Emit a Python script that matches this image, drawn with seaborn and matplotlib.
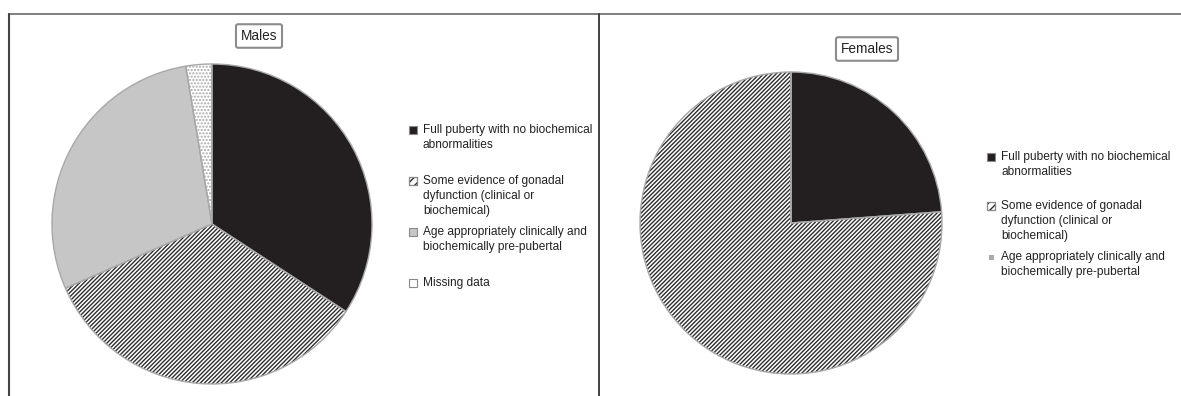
import matplotlib
matplotlib.use("Agg")
import matplotlib.pyplot as plt
from matplotlib.patches import Rectangle
from matplotlib.lines import Line2D
import seaborn as sns

# Pubertal outcome groups
categories = [
    "Full puberty with no biochemical\nabnormalities",
    "Some evidence of gonadal\ndyfunction (clinical or\nbiochemical)",
    "Age appropriately clinically and\nbiochemically pre-pubertal",
    "Missing data",
]
males = [13, 13, 11, 1]
females = [5, 16, 0]
panel_titles = ["Males", "Females"]

sns.set_theme(style="white")
plt.rcParams["font.family"] = ["Liberation Sans", "DejaVu Sans"]
plt.rcParams["hatch.linewidth"] = 1.0

W, H = 1181, 396
fig = plt.figure(figsize=(W / 100, H / 100), dpi=100)

fills = ["#231f20", "white", "#c6c6c6", "white"]
hatches = [None, "////////", None, "....."]
hatch_cols = ["#231f20", "#2e2e2e", "#c6c6c6", "#a8a8a8"]


def px_axes(cx, cy, r):
    pad = 1.03
    rr = r * pad
    return fig.add_axes([(cx - rr) / W, (H - cy - rr) / H, 2 * rr / W, 2 * rr / H])


def draw_pie(ax, values):
    n = len(values)
    wedges, _ = ax.pie(values, colors=fills[:n], startangle=90, counterclock=False,
                       wedgeprops=dict(linewidth=0))
    for w, h, hc in zip(wedges, hatches[:n], hatch_cols[:n]):
        w.set_edgecolor(hc)
        w.set_linewidth(0)
        if h:
            w.set_hatch(h)
    # slice outlines
    ax.pie(values, colors=["none"] * n, startangle=90, counterclock=False,
           wedgeprops=dict(linewidth=1.0, edgecolor="#a8a8a8", fill=False))
    ax.set_xlim(-1.03, 1.03)
    ax.set_ylim(-1.03, 1.03)
    ax.set_aspect("equal")
    ax.axis("off")


ax_m = px_axes(212, 224, 160)
draw_pie(ax_m, males)
ax_f = px_axes(791, 223, 151)
draw_pie(ax_f, females)


def fx(x):
    return x / W


def fy(y):
    return 1 - y / H


# title boxes
for title, (tx, ty) in zip(panel_titles, [(259, 36), (867, 49)]):
    fig.text(fx(tx), fy(ty), title, ha="center", va="center", fontsize=9.8,
             color="#222222",
             bbox=dict(boxstyle="round,pad=0.35,rounding_size=0.15", fc="white",
                       ec="#8c8c8c", lw=1.5))


def legend(marker_x, text_x, ys, n, female=False):
    for i in range(n):
        y = ys[i]
        if female and i == 2:
            s = 5
            fig.add_artist(Rectangle((fx(marker_x - s / 2), fy(y + s / 2 - 1)), s / W, s / H,
                                     transform=fig.transFigure, fc="#aaaaaa", ec="none"))
        else:
            s = 8
            striped = i == 1
            rect = Rectangle((fx(marker_x - s / 2), fy(y + s / 2 - 1)), s / W, s / H,
                             transform=fig.transFigure, fc=fills[i],
                             ec=hatch_cols[i] if striped else "#8a8a8a", lw=0.8)
            if striped:
                rect.set_hatch("////")
            fig.add_artist(rect)
            if striped:
                fig.add_artist(Rectangle((fx(marker_x - s / 2), fy(y + s / 2 - 1)), s / W, s / H,
                                         transform=fig.transFigure, fill=False,
                                         ec="#8a8a8a", lw=0.8))
        fig.text(fx(text_x), fy(y - 6.7), categories[i], ha="left", va="top",
                 fontsize=8.6, color="#222222", linespacing=1.29)


legend(413, 423, [131, 182, 233, 284], 4)
legend(991, 1001, [158, 207, 258], 3, female=True)

# panel frame
fig.add_artist(Line2D([fx(9), fx(W)], [fy(14), fy(14)], color="#6a6a6a", lw=1.2,
                      transform=fig.transFigure))
fig.add_artist(Line2D([fx(9), fx(9)], [fy(14), fy(H)], color="#444444", lw=1.5,
                      transform=fig.transFigure))
fig.add_artist(Line2D([fx(599), fx(599)], [fy(14), fy(H)], color="#333333", lw=1.3,
                      transform=fig.transFigure))

fig.savefig("out.png", dpi=100)
